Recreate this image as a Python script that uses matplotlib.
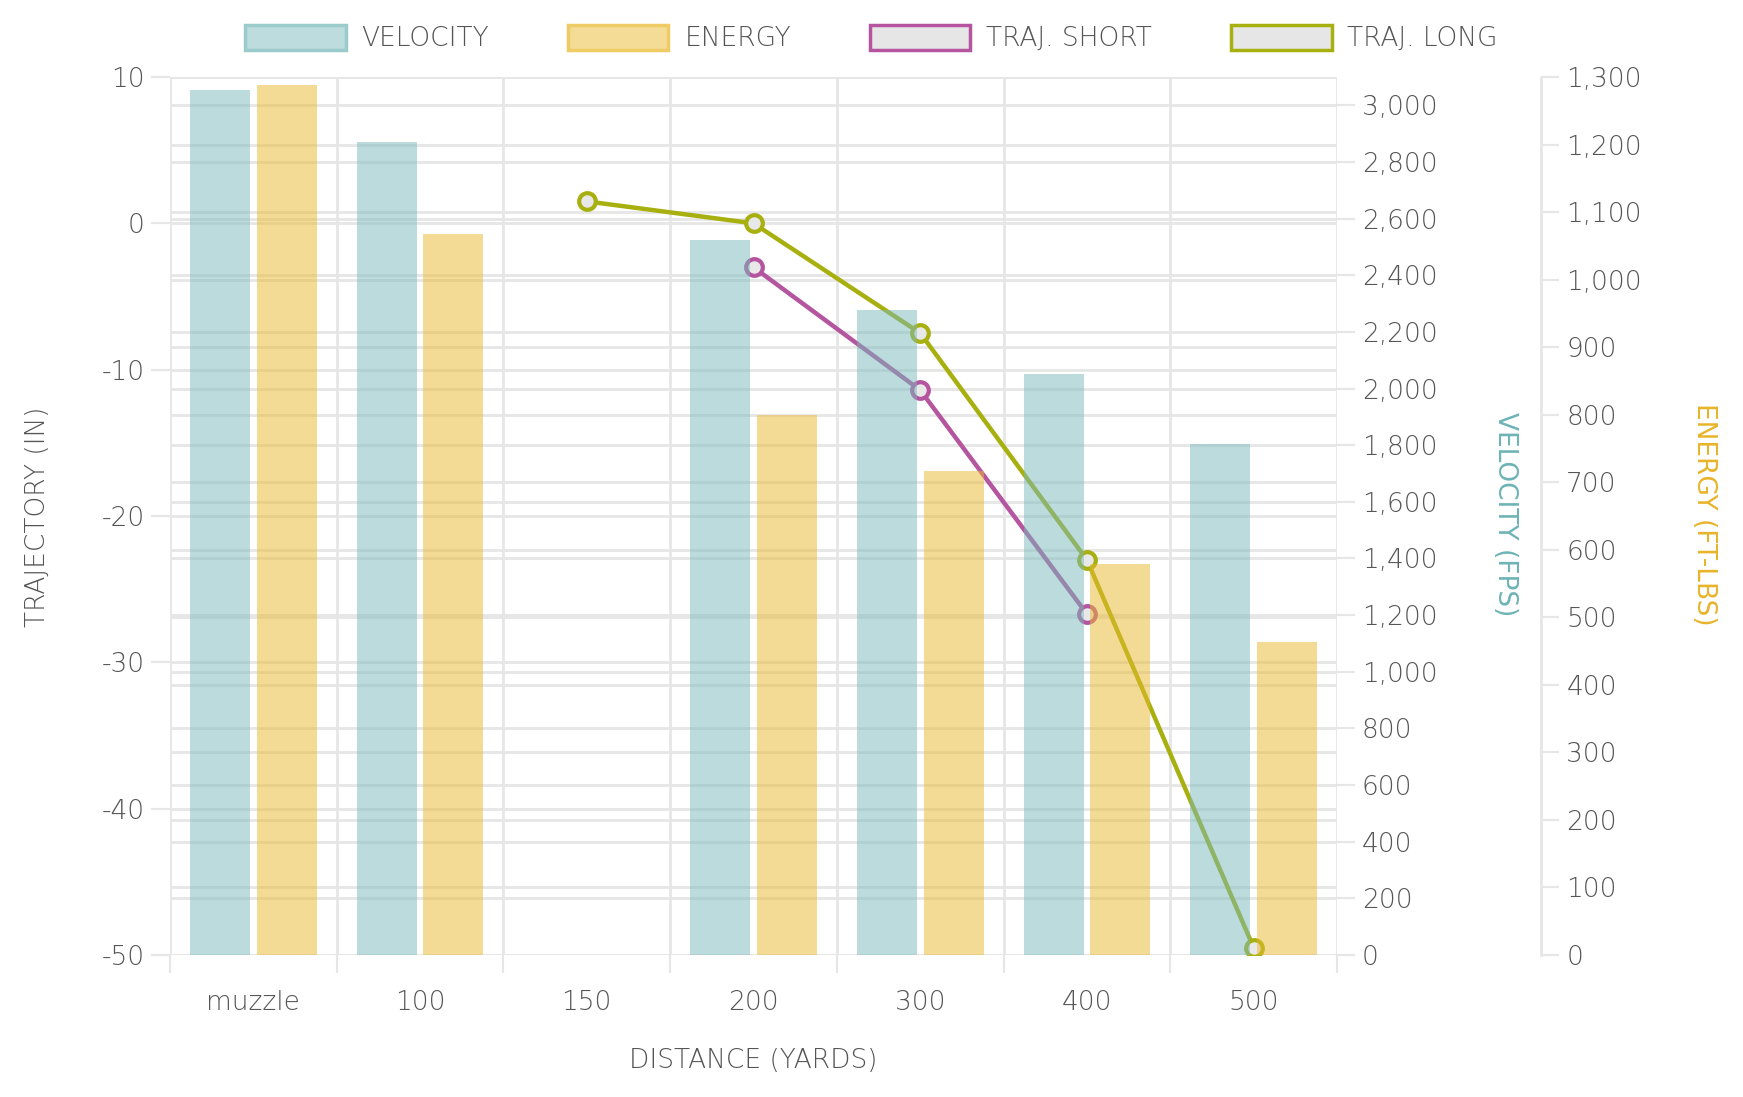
import numpy as np
import matplotlib.pyplot as plt
from matplotlib.patches import Patch

# data
distances = ['muzzle', '100', '150', '200', '300', '400', '500']
velocity = [3055, 2870, np.nan, 2525, 2278, 2051, 1804]
energy = [1288, 1068, np.nan, 800, 717, 579, 464]
traj_short = [np.nan, np.nan, np.nan, -3.0, -11.4, -26.7, np.nan]
traj_long = [np.nan, np.nan, 1.5, 0.0, -7.5, -23.0, -49.5]

traj_ticks = [-50, -40, -30, -20, -10, 0, 10]
vel_ticks = list(range(0, 3001, 200))
en_ticks = list(range(0, 1301, 100))

TRAJ_LIM = (-50, 10)
VEL_MAX = 3100
EN_MAX = 1300

TEAL = '#79b9bb'
YELLOW = '#e9b92f'
MAGENTA = '#b5559f'
OLIVE = '#a8b010'
GRID = '#e6e6e6'
TXT = '#555555'

plt.rcParams['font.family'] = ['DejaVu Sans']
plt.rcParams['font.weight'] = 'light'
FS = 19

fig = plt.figure(figsize=(17.43, 10.97), dpi=100)
ax = fig.add_axes([170/1743, 1-955/1097, 1167/1743, 878/1097])
ax2 = ax.twinx()
ax3 = ax.twinx()

x = np.arange(len(distances))
span = TRAJ_LIM[1] - TRAJ_LIM[0]

# all horizontal grid lines live on the bottom axes so they stay under the lines
for t in vel_ticks:
    ax.axhline(TRAJ_LIM[0] + t / VEL_MAX * span, color=GRID, lw=2, zorder=0.5)
for t in en_ticks:
    ax.axhline(TRAJ_LIM[0] + t / EN_MAX * span, color=GRID, lw=2, zorder=0.5)

# trajectory lines (drawn underneath the bars)
for vals, col in [(traj_short, MAGENTA), (traj_long, OLIVE)]:
    ax.plot(x, vals, color=col, lw=3.2, marker='o', ms=12, mew=3,
            mfc='#e8e8e8', mec=col, zorder=3)

ax.set_xlim(-0.5, len(distances) - 0.5)
ax.set_ylim(*TRAJ_LIM)
ax.set_yticks(traj_ticks)
ax.set_yticklabels([str(t) for t in traj_ticks])
ax.set_xticks(x)
ax.set_xticklabels(distances)
ax.set_xticks(np.arange(-0.5, len(distances)), minor=True)
ax.tick_params(axis='x', which='major', length=0, pad=25, labelsize=FS, labelcolor=TXT)
ax.tick_params(axis='x', which='minor', length=13, width=1.5, color=GRID)
ax.tick_params(axis='y', length=14, width=1.5, color=GRID, labelsize=FS, labelcolor=TXT, pad=4)
ax.grid(axis='x', which='minor', color=GRID, lw=2)
ax.grid(axis='y', which='major', color=GRID, lw=2)
ax.set_axisbelow(True)

# velocity bars
ax2.bar(x - 0.2, velocity, width=0.36, color=TEAL, alpha=0.5, lw=0, zorder=2)
ax2.set_ylim(0, VEL_MAX)
ax2.set_yticks(vel_ticks)
ax2.set_yticklabels([f'{t:,}' for t in vel_ticks])
ax2.tick_params(axis='y', length=13, width=1.5, color=GRID, labelsize=FS, labelcolor=TXT, pad=5)

# energy bars
ax3.bar(x + 0.2, energy, width=0.36, color=YELLOW, alpha=0.5, lw=0, zorder=2)
ax3.set_ylim(0, EN_MAX)
ax3.set_yticks(en_ticks)
ax3.set_yticklabels([f'{t:,}' for t in en_ticks])
ax3.spines['right'].set_position(('axes', 1.175))
ax3.tick_params(axis='y', length=13, width=1.5, color=GRID, labelsize=FS, labelcolor=TXT, pad=5)

for a in (ax, ax2, ax3):
    for s in a.spines.values():
        s.set_visible(False)
ax3.spines['right'].set_visible(True)
ax3.spines['right'].set_color(GRID)
ax3.spines['right'].set_linewidth(2)

# axis titles
fig.text(37/1743, 1-517/1097, 'TRAJECTORY (IN)', rotation=90, ha='center', va='center',
         fontsize=FS, color=TXT)
fig.text(1505/1743, 1-514/1097, 'VELOCITY (FPS)', rotation=270, ha='center', va='center',
         fontsize=FS, color='#6db3b5', fontweight='normal')
fig.text(1704/1743, 1-514/1097, 'ENERGY (FT-LBS)', rotation=270, ha='center', va='center',
         fontsize=FS, color='#e8b42a', fontweight='normal')
fig.text(753/1743, 1-1061/1097, 'DISTANCE (YARDS)', ha='center', va='center',
         fontsize=FS, color=TXT)

handles = [
    Patch(facecolor='#bcdcdd', edgecolor='#9ccbcc', lw=2.5, label='VELOCITY'),
    Patch(facecolor='#f4dc97', edgecolor='#eecb65', lw=2.5, label='ENERGY'),
    Patch(facecolor='#e6e6e6', edgecolor=MAGENTA, lw=2.5, label='TRAJ. SHORT'),
    Patch(facecolor='#e6e6e6', edgecolor=OLIVE, lw=2.5, label='TRAJ. LONG'),
]
leg = fig.legend(handles=handles, loc='center', bbox_to_anchor=(0.5, 1-38/1097), ncol=4,
                 frameon=False, fontsize=FS, handlelength=3.8, handleheight=1.1,
                 handletextpad=0.6, columnspacing=3.0)
for t in leg.get_texts():
    t.set_color(TXT)

fig.savefig('out.png', dpi=100)
